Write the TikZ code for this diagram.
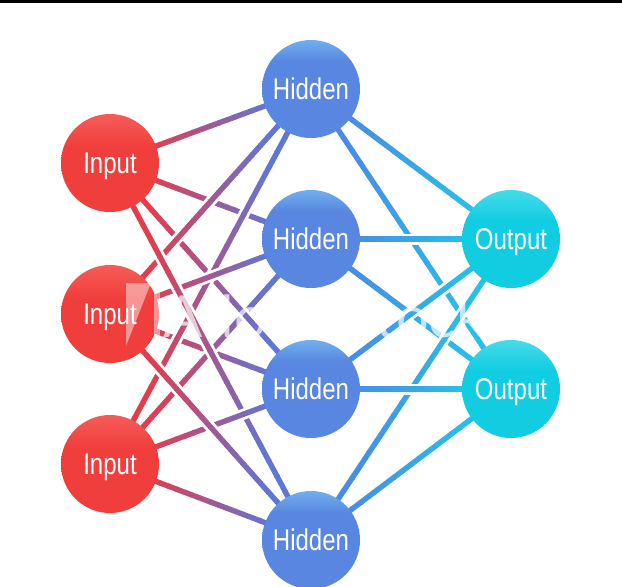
\documentclass[tikz,border=0pt]{standalone}
\usepackage{fontspec}
\usepackage{graphicx}
\setmainfont{Liberation Sans}
\newfontfamily\wmfont{Lato}
\usetikzlibrary{calc}
\definecolor{inred}{RGB}{240,62,60}
\definecolor{inredtop}{RGB}{246,92,88}
\definecolor{hidblue}{RGB}{88,134,224}
\definecolor{hidtop}{RGB}{112,176,238}
\definecolor{outcyan}{RGB}{18,205,226}
\definecolor{outtop}{RGB}{70,220,234}
\definecolor{eA}{RGB}{228,60,76}
\definecolor{eB}{RGB}{96,118,214}
\definecolor{eC}{RGB}{72,140,228}
\definecolor{eD}{RGB}{40,192,232}
\pgfdeclareverticalshading{inshade}{100bp}{color(0bp)=(inred); color(58bp)=(inred); color(75bp)=(inredtop); color(100bp)=(inredtop)}
\pgfdeclareverticalshading{hidshade}{100bp}{color(0bp)=(hidblue); color(64bp)=(hidblue); color(75bp)=(hidtop); color(100bp)=(hidtop)}
\pgfdeclareverticalshading{outshade}{100bp}{color(0bp)=(outcyan); color(60bp)=(outcyan); color(75bp)=(outtop); color(100bp)=(outtop)}
\newcommand{\cond}[1]{\scalebox{0.8}[1]{#1}}
\newcommand{\gedge}[4]{%
  \draw[white, line width=11pt, shorten <=52pt, shorten >=52pt] (#1) -- (#2);
  \foreach \k in {1,...,24}{%
    \pgfmathsetmacro{\pa}{max(0,(\k-1)/24-0.004)}%
    \pgfmathsetmacro{\pb}{\k/24}%
    \pgfmathsetmacro{\pc}{100*min(1,max(0,((\k-0.5)/24-0.2)/0.6))}%
    \draw[line width=5.4pt, color=#4!\pc!#3] ($(#1)!\pa!(#2)$) -- ($(#1)!\pb!(#2)$);
  }}
\tikzset{
  neuron/.style={circle, minimum size=98pt, inner sep=0pt, text=white,
    text height=20pt, text depth=0pt,
    font=\fontsize{30}{32}\selectfont},
  inp/.style={neuron, shade, shading=inshade},
  hid/.style={neuron, shade, shading=hidshade},
  outp/.style={neuron, shade, shading=outshade},
}
\begin{document}
\begin{tikzpicture}[x=1pt, y=-1pt]
\useasboundingbox (0,0) rectangle (622,587);
\fill[white] (0,0) rectangle (622,587);
\fill[black] (0,0) rectangle (622,2.6);

% node positions (placeholders for edges)
\coordinate (i1) at (110,163);
\coordinate (i2) at (110,314);
\coordinate (i3) at (110,464);
\coordinate (h1) at (311,89);
\coordinate (h2) at (311,239);
\coordinate (h3) at (311,389);
\coordinate (h4) at (311,540);
\coordinate (o1) at (511,239);
\coordinate (o2) at (511,389);

% input -> hidden edges
\gedge{i1}{h2}{eA}{eB}
\gedge{i1}{h1}{eA}{eB}
\gedge{i2}{h3}{eA}{eB}
\gedge{i3}{h2}{eA}{eB}
\gedge{i1}{h3}{eA}{eB}
\gedge{i2}{h1}{eA}{eB}
\gedge{i3}{h1}{eA}{eB}
\gedge{i2}{h2}{eA}{eB}
\gedge{i1}{h4}{eA}{eB}
\gedge{i3}{h3}{eA}{eB}
\gedge{i2}{h4}{eA}{eB}
\gedge{i3}{h4}{eA}{eB}

% hidden -> output edges
\gedge{h1}{o2}{eC}{eD}
\gedge{h1}{o1}{eC}{eD}
\gedge{h2}{o1}{eC}{eD}
\gedge{h2}{o2}{eC}{eD}
\gedge{h3}{o1}{eC}{eD}
\gedge{h4}{o1}{eC}{eD}
\gedge{h3}{o2}{eC}{eD}
\gedge{h4}{o2}{eC}{eD}

% nodes
\node[inp] (I1) at (i1) {\cond{Input}};
\node[inp] (I2) at (i2) {\cond{Input}};
\node[inp] (I3) at (i3) {\cond{Input}};
\node[hid] (H1) at (h1) {\cond{Hidden}};
\node[hid] (H2) at (h2) {\cond{Hidden}};
\node[hid] (H3) at (h3) {\cond{Hidden}};
\node[hid] (H4) at (h4) {\cond{Hidden}};
\node[outp] (O1) at (o1) {\cond{Output}};
\node[outp] (O2) at (o2) {\cond{Output}};

% watermark
\fill[white, opacity=0.45] (126,283) -- (151,283) -- (126,346) -- cycle;
\fill[white, opacity=0.45] (154,283) -- (160,283) -- (160,346) -- (154,346) -- cycle;
\node[text=white, text opacity=0.7, anchor=west, inner sep=0pt,
  font=\wmfont\fontsize{58}{60}\selectfont] (wm) at (163,316) {Adobe Stock};
\end{tikzpicture}
\end{document}
